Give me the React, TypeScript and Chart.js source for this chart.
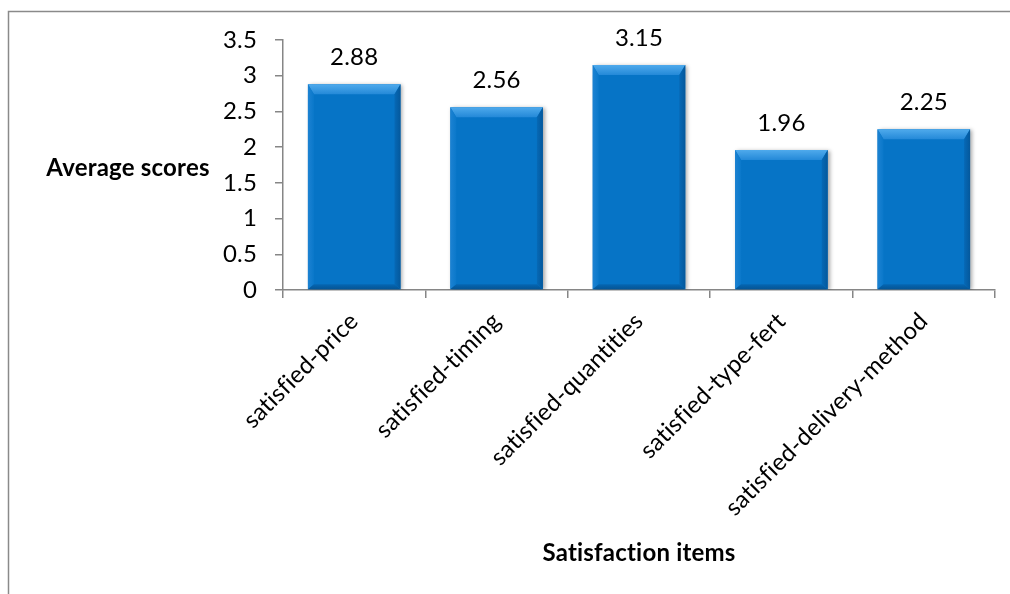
import React, { useEffect, useRef } from "react";
import { Chart, registerables } from "chart.js";

Chart.register(...registerables);

// Satisfaction items and their average scores
const categories = [
  "satisfied-price",
  "satisfied-timing",
  "satisfied-quantities",
  "satisfied-type-fert",
  "satisfied-delivery-method",
];
const averageScores = [2.88, 2.56, 3.15, 1.96, 2.25];
const yTickValues = [0, 0.5, 1, 1.5, 2, 2.5, 3, 3.5];

const yTitle = "Average scores";
const xTitle = "Satisfaction items";

const FONT = "Lato, 'Open Sans', sans-serif";
const AXIS_GRAY = "#868686";
const BAR_BLUE = "#0674C6";
const TEXT_SIZE = 24;

// Thin frame along the top and left edges; a touch of letter spacing keeps "fi" unligated
const framePlugin = {
  id: "frame",
  beforeDraw(chart: any) {
    const ctx = chart.ctx;
    if ("letterSpacing" in ctx) ctx.letterSpacing = "0.2px";
    ctx.save();
    ctx.strokeStyle = "#8a8a8a";
    ctx.lineWidth = 1.5;
    ctx.beginPath();
    ctx.moveTo(8.5, chart.height);
    ctx.lineTo(8.5, 11.5);
    ctx.lineTo(chart.width, 11.5);
    ctx.stroke();
    ctx.restore();
  },
};

// Soft drop shadow beneath the bars
const shadowPlugin = {
  id: "barShadow",
  beforeDatasetDraw(chart: any) {
    const ctx = chart.ctx;
    ctx.save();
    ctx.shadowColor = "rgba(0,0,0,0.35)";
    ctx.shadowBlur = 4;
    ctx.shadowOffsetX = 2;
    ctx.shadowOffsetY = 1;
  },
  afterDatasetDraw(chart: any) {
    chart.ctx.restore();
  },
};

// Bevelled edges on each bar
const bevelPlugin = {
  id: "bevel",
  afterDatasetsDraw(chart: any) {
    const ctx = chart.ctx;
    const meta = chart.getDatasetMeta(0);
    meta.data.forEach((bar: any) => {
      const half = bar.width / 2;
      const L = bar.x - half;
      const R = bar.x + half;
      const T = bar.y;
      const B = bar.base;
      const t = 10;
      const s = 6;
      const b = 5;
      const poly = (pts: number[][], fill: any) => {
        ctx.beginPath();
        ctx.moveTo(pts[0][0], pts[0][1]);
        for (let i = 1; i < pts.length; i++) ctx.lineTo(pts[i][0], pts[i][1]);
        ctx.closePath();
        ctx.fillStyle = fill;
        ctx.fill();
      };
      ctx.save();
      const topGrad = ctx.createLinearGradient(0, T, 0, T + t);
      topGrad.addColorStop(0, "#4FAAEC");
      topGrad.addColorStop(1, "#2489D8");
      poly([[L, T], [R, T], [R - s, T + t], [L + s, T + t]], topGrad);
      const leftGrad = ctx.createLinearGradient(L, 0, L + s, 0);
      leftGrad.addColorStop(0, "#1C82D2");
      leftGrad.addColorStop(1, "#0A78CA");
      poly([[L, T], [L + s, T + t], [L + s, B - b], [L, B]], leftGrad);
      const rightGrad = ctx.createLinearGradient(R - s, 0, R, 0);
      rightGrad.addColorStop(0, "#0669B6");
      rightGrad.addColorStop(1, "#04589C");
      poly([[R, T], [R - s, T + t], [R - s, B - b], [R, B]], rightGrad);
      const botGrad = ctx.createLinearGradient(0, B - b, 0, B);
      botGrad.addColorStop(0, "#0566B2");
      botGrad.addColorStop(1, "#045596");
      poly([[L, B], [L + s, B - b], [R - s, B - b], [R, B]], botGrad);
      ctx.restore();
    });
  },
};

// Value labels above the bars and the two axis titles
const labelsPlugin = {
  id: "labels",
  afterDraw(chart: any) {
    const ctx = chart.ctx;
    const area = chart.chartArea;
    const meta = chart.getDatasetMeta(0);
    ctx.save();
    ctx.fillStyle = "#000";
    ctx.textAlign = "center";
    ctx.textBaseline = "alphabetic";
    ctx.font = `${TEXT_SIZE}px ${FONT}`;
    meta.data.forEach((bar: any, i: number) => {
      ctx.fillText(averageScores[i].toFixed(2), bar.x, bar.y - 19);
    });
    ctx.font = `bold ${TEXT_SIZE}px ${FONT}`;
    ctx.textBaseline = "middle";
    ctx.fillText(yTitle, 128, 168);
    ctx.fillText(xTitle, (area.left + area.right) / 2, 553);
    ctx.restore();
  },
};

export default function App() {
  const canvasRef = useRef<HTMLCanvasElement | null>(null);

  useEffect(() => {
    if (!canvasRef.current) return;
    const chart = new Chart(canvasRef.current, {
      type: "bar",
      data: {
        labels: categories,
        datasets: [
          {
            data: averageScores,
            backgroundColor: BAR_BLUE,
            borderWidth: 0,
            categoryPercentage: 1,
            barPercentage: 0.65,
          },
        ],
      },
      options: {
        responsive: false,
        animation: false,
        layout: { padding: { top: 40, right: 15, left: 0, bottom: 0 } },
        plugins: {
          legend: { display: false },
          tooltip: { enabled: false },
        },
        scales: {
          x: {
            grid: {
              display: true,
              drawOnChartArea: false,
              drawTicks: true,
              tickLength: 8,
              color: AXIS_GRAY,
              lineWidth: 1.5,
            },
            border: { color: AXIS_GRAY, width: 1.5 },
            ticks: {
              color: "#000",
              font: { family: FONT, size: TEXT_SIZE },
              minRotation: 45,
              maxRotation: 45,
              autoSkip: false,
              padding: 9,
            },
            afterFit(scale: any) {
              scale.height = 304;
            },
          },
          y: {
            min: 0,
            max: 3.5,
            afterBuildTicks(scale: any) {
              scale.ticks = yTickValues.map((v) => ({ value: v }));
            },
            grid: {
              display: true,
              drawOnChartArea: false,
              drawTicks: true,
              tickLength: 8,
              color: AXIS_GRAY,
              lineWidth: 1.5,
            },
            border: { color: AXIS_GRAY, width: 1.5 },
            ticks: {
              color: "#000",
              font: { family: FONT, size: TEXT_SIZE },
              padding: 18,
              callback: (v: any) => String(v),
            },
            afterFit(scale: any) {
              scale.width = 283;
            },
          },
        },
      },
      plugins: [framePlugin, shadowPlugin, bevelPlugin, labelsPlugin],
    });
    return () => chart.destroy();
  }, []);

  return (
    <div
      style={{
        position: "fixed",
        left: 0,
        top: 0,
        width: 1010,
        height: 594,
        background: "#fff",
      }}
    >
      <canvas ref={canvasRef} width={1010} height={594} style={{ display: "block" }} />
    </div>
  );
}
